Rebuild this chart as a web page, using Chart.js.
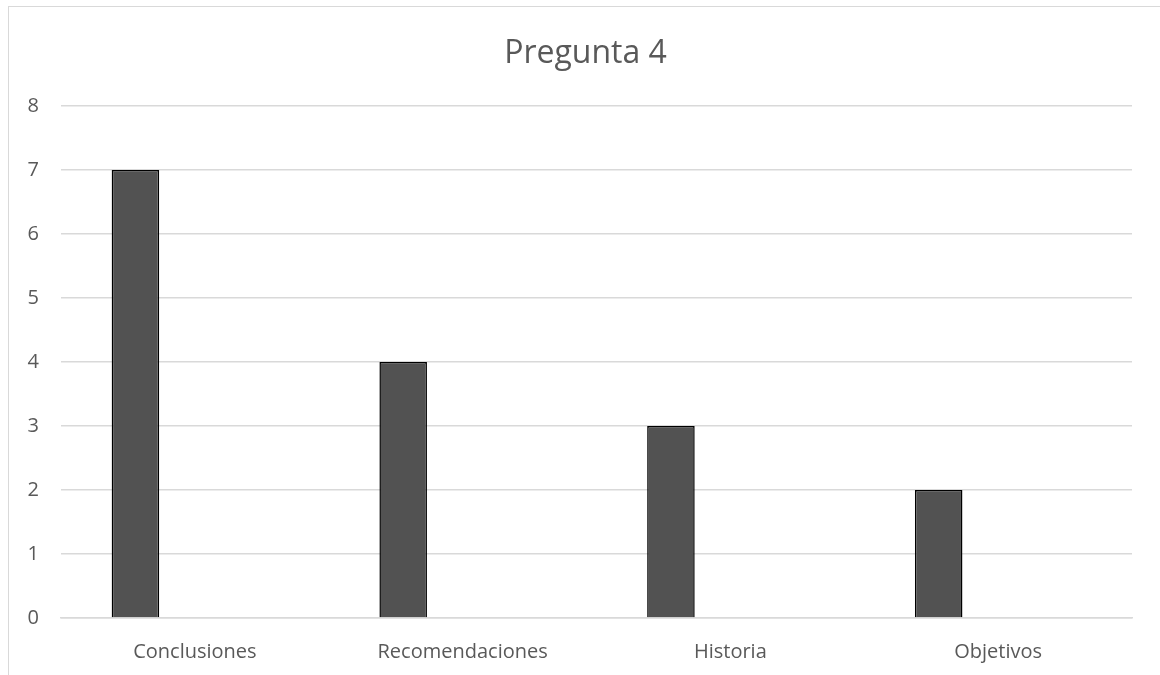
<!DOCTYPE html>
<html>
<head>
<meta charset="utf-8">
<script src="https://cdn.jsdelivr.net/npm/chart.js@4.4.0/dist/chart.umd.min.js"></script>
<style>
  html, body { margin: 0; padding: 0; background: #fff; }
  #wrap { position: relative; width: 1160px; height: 675px; overflow: hidden; }
  #frame { position: absolute; left: 8px; top: 6px; width: 1200px; height: 720px; border: 1.5px solid #d9d9d9; }
  #c { position: absolute; left: 0; top: 0; }
</style>
</head>
<body>
<div id="wrap">
  <div id="frame"></div>
  <canvas id="c" width="1160" height="675"></canvas>
</div>
<script>
// datos de la gráfica
var categorias = ['Conclusiones', 'Recomendaciones', 'Historia', 'Objetivos'];
var serie1 = [7, 4, 3, 2];
var serie2 = [null, null, null, null]; // series vacías (ocupan su hueco)
var serie3 = [null, null, null, null];
var titulo = 'Pregunta 4';
var yMin = 0, yMax = 8, yPaso = 1;

var fuente = "'Open Sans', 'Noto Sans', sans-serif";
var gris = '#595959';

// título dibujado a mano: en el original está algo desplazado del centro del lienzo
var tituloPlugin = {
    id: 'tituloPlugin',
    afterDraw: function (chart) {
        var c = chart.ctx;
        c.save();
        c.fillStyle = gris;
        c.font = '32px ' + fuente;
        c.textAlign = 'center';
        c.textBaseline = 'alphabetic';
        c.fillText(titulo, 585.5, 63);
        c.restore();
    }
};

var ctx = document.getElementById('c');
var chart = new Chart(ctx, {
    type: 'bar',
    data: {
        labels: categorias,
        datasets: [
            { label: 'Serie 1', data: serie1, backgroundColor: '#525252', borderColor: '#000000', borderWidth: 1.5 },
            { label: 'Serie 2', data: serie2, backgroundColor: '#7f7f7f' },
            { label: 'Serie 3', data: serie3, backgroundColor: '#a5a5a5' }
        ]
    },
    plugins: [tituloPlugin],
    options: {
        responsive: false,
        animation: false,
        layout: { padding: { left: 0, right: 28, top: 106, bottom: 0 } },
        datasets: { bar: { categoryPercentage: 0.666, barPercentage: 0.8 } },
        plugins: {
            legend: { display: false },
            tooltip: { enabled: false },
            title: { display: false }
        },
        scales: {
            x: {
                grid: { display: false },
                border: { display: true, color: '#d9d9d9', width: 1.5 },
                ticks: { color: gris, font: { family: fuente, size: 20 }, padding: 14 },
                afterFit: function (s) { s.height = 57; }
            },
            y: {
                min: yMin,
                max: yMax,
                ticks: { stepSize: yPaso, color: gris, font: { family: fuente, size: 20 }, padding: 22 },
                grid: { color: '#d9d9d9', lineWidth: 1.5, drawTicks: false },
                border: { display: false },
                afterFit: function (s) { s.width = 61; }
            }
        }
    }
});
</script>
</body>
</html>
